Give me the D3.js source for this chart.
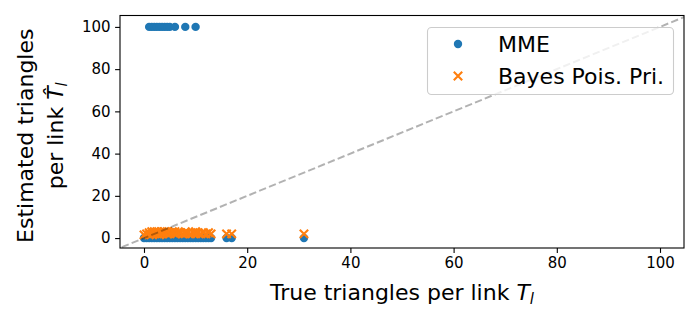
<!DOCTYPE html>
<html>
<head>
<meta charset="utf-8">
<script src="https://cdn.jsdelivr.net/npm/d3@7"></script>
<style>
  body { margin: 0; background: #fff; }
  svg { display: block; font-family: "DejaVu Sans", sans-serif; }
</style>
</head>
<body>
<main></main>
<script>
// true triangles per link
const trueT = [0, 0.5, 1, 1, 1.5, 1.5, 2, 2, 2.5, 2.5, 3, 3, 3.5, 3.5, 4, 4, 4.5, 4.5, 5, 5, 5.5, 6, 6, 6.5,
    7, 7.5, 8, 8, 8.5, 9, 9.5, 10, 10, 10.5, 11, 11.5, 12, 12.5, 13, 16, 17, 31]
// MME estimates
const mme = [0, 0, 100, 0, 100, 0, 100, 0, 100, 0, 100, 0, 100, 0, 100, 0, 100, 0, 100, 0, 0, 100, 0, 0,
    0, 0, 100, 0, 0, 0, 0, 100, 0, 0, 0, 0, 0, 0, 0, 0, 0, 0]
// Bayes Poisson prior estimates
const bayes = [1.5, 2, 2.5, 1.5, 3, 2, 3, 2.5, 2, 3, 2.5, 1.5, 3, 2, 3, 2.5, 2, 3, 2.5, 2, 3, 3, 2, 2.5,
    2.5, 2, 3, 2, 2.5, 2, 2.5, 3, 2, 2.5, 2, 2.5, 2, 2.5, 2, 2, 2, 2]
const xTicks = [0, 20, 40, 60, 80, 100]
const yTicks = [0, 20, 40, 60, 80, 100]
const seriesNames = ["MME", "Bayes Pois. Pri."]

const width = 700, height = 320
const margin = { top: 15.5, bottom: 72, left: 120, right: 16 }
const blue = "#1f77b4", orange = "#ff7f0e"

let svg = d3.select("main")
    .append("svg")
    .attr("width", width)
    .attr("height", height)

let x = d3.scaleLinear()
    .domain([-4.65, 104.65])
    .range([margin.left, width - margin.right])

let y = d3.scaleLinear()
    .domain([-4.7, 105.4])
    .range([height - margin.bottom, margin.top])

svg.append("defs").append("clipPath")
    .attr("id", "clip")
    .append("rect")
    .attr("x", margin.left).attr("y", margin.top)
    .attr("width", width - margin.left - margin.right)
    .attr("height", height - margin.top - margin.bottom)

let pts = trueT.map((t, i) => ({ t, m: mme[i], b: bayes[i] }))

svg.append("g")
    .selectAll("circle")
    .data(pts)
    .enter()
    .append("circle")
    .attr("cx", d => x(d.t))
    .attr("cy", d => y(d.m))
    .attr("r", 4.2)
    .attr("fill", blue)

const cross = "M-4.2,-4.2L4.2,4.2M-4.2,4.2L4.2,-4.2"

svg.append("g")
    .selectAll("path")
    .data(pts)
    .enter()
    .append("path")
    .attr("transform", d => `translate(${x(d.t)},${y(d.b)})`)
    .attr("d", cross)
    .attr("stroke", orange)
    .attr("stroke-width", 2.1)
    .attr("fill", "none")

// y = x reference line, drawn over the points
svg.append("line")
    .attr("clip-path", "url(#clip)")
    .attr("x1", x(-10)).attr("y1", y(-10))
    .attr("x2", x(110)).attr("y2", y(110))
    .attr("stroke", "#000")
    .attr("stroke-opacity", 0.3)
    .attr("stroke-width", 2)
    .attr("stroke-dasharray", "7.4,3.2")

// frame
svg.append("rect")
    .attr("x", margin.left).attr("y", margin.top)
    .attr("width", width - margin.left - margin.right)
    .attr("height", height - margin.top - margin.bottom)
    .attr("fill", "none")
    .attr("stroke", "#000")
    .attr("stroke-width", 1.1)

let xAxis = svg.append("g")
    .attr("transform", `translate(0, ${height - margin.bottom})`)
    .call(d3.axisBottom(x).tickValues(xTicks).tickSize(4.9).tickPadding(4))
xAxis.select(".domain").remove()

let yAxis = svg.append("g")
    .attr("transform", `translate(${margin.left}, 0)`)
    .call(d3.axisLeft(y).tickValues(yTicks).tickSize(4.9).tickPadding(4.5))
yAxis.select(".domain").remove()

svg.selectAll(".tick line").attr("stroke", "#000").attr("stroke-width", 1.1)
svg.selectAll(".tick text")
    .attr("font-family", "DejaVu Sans")
    .attr("font-size", 15)
    .attr("fill", "#000")

// x label
let xl = svg.append("text")
    .attr("x", (margin.left + width - margin.right) / 2)
    .attr("y", 300)
    .attr("text-anchor", "middle")
    .attr("font-size", 22)
xl.append("tspan").text("True triangles per link ")
xl.append("tspan").attr("font-style", "italic").text("T")
xl.append("tspan").attr("font-style", "italic").attr("font-size", 15).attr("dy", 4).text("l")

// y label, two lines
let yc = (margin.top + height - margin.bottom) / 2
svg.append("text")
    .attr("transform", `translate(33, ${yc + 4}) rotate(-90)`)
    .attr("text-anchor", "middle")
    .attr("font-size", 22)
    .text("Estimated triangles")

let yl2 = svg.append("text")
    .attr("transform", `translate(63, ${yc + 4}) rotate(-90)`)
    .attr("text-anchor", "middle")
    .attr("font-size", 22)
yl2.append("tspan").text("per link ")
yl2.append("tspan").attr("font-style", "italic").text("T\u0302")
yl2.append("tspan").attr("font-style", "italic").attr("font-size", 15).attr("dy", 4).text("l")

// legend
let legend = svg.append("g").attr("id", "legend")
legend.append("rect")
    .attr("x", 427.5).attr("y", 27.5)
    .attr("width", 246).attr("height", 67)
    .attr("rx", 4)
    .attr("fill", "#fff").attr("fill-opacity", 0.8)
    .attr("stroke", "#cccccc").attr("stroke-width", 1.1)

legend.append("circle")
    .attr("cx", 458).attr("cy", 44)
    .attr("r", 4.2).attr("fill", blue)
legend.append("path")
    .attr("transform", "translate(458,76)")
    .attr("d", cross)
    .attr("stroke", orange).attr("stroke-width", 2.1)

legend.selectAll("text.lab")
    .data(seriesNames)
    .enter()
    .append("text")
    .attr("class", "lab")
    .attr("x", 498)
    .attr("y", (d, i) => 52 + i * 32)
    .attr("font-size", 22)
    .text(d => d)
</script>
</body>
</html>
